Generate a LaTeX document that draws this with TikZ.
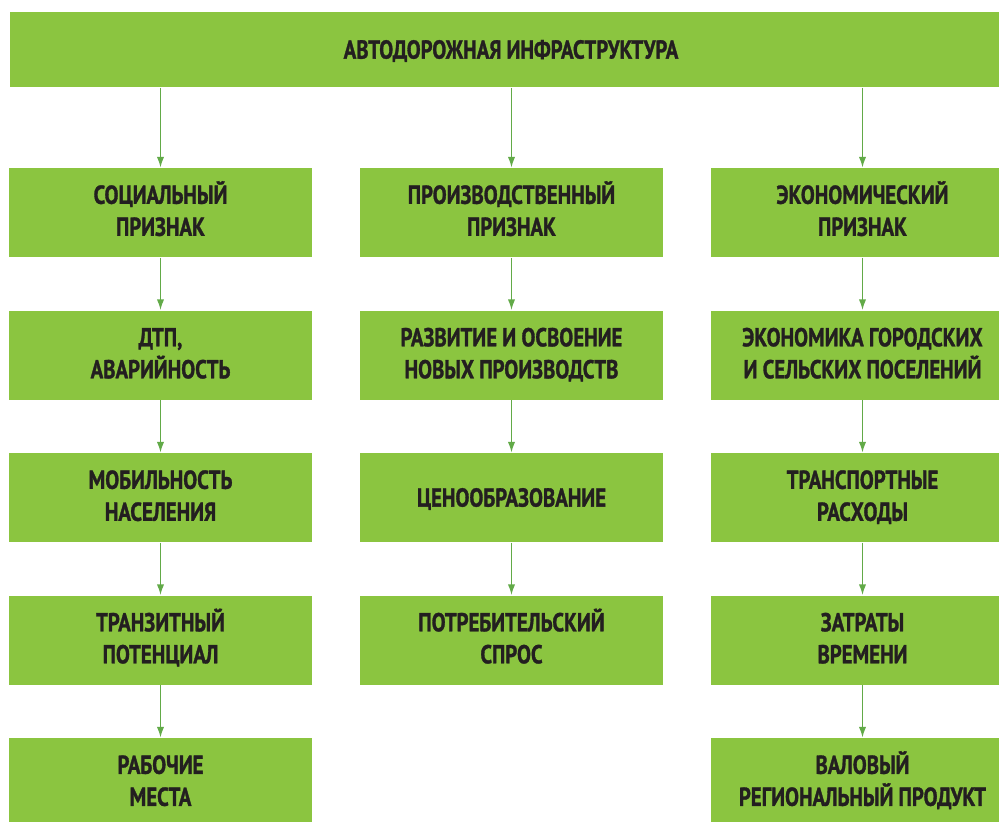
\documentclass[tikz,border=0pt]{standalone}
\usepackage{fontspec}
\setmainfont{PT Sans}[FakeStretch=0.8, BoldFeatures={FakeBold=1.2}]
\usetikzlibrary{arrows.meta}

\definecolor{boxgreen}{RGB}{139,197,64}
\definecolor{linkgreen}{RGB}{98,170,72}
\definecolor{inkdark}{RGB}{35,31,32}

\tikzset{every picture/.style={line width=0.75pt}}
\tikzset{
  sign/.style={fill=boxgreen, draw=none, minimum width=227.25pt, minimum height=66.75pt,
    inner sep=0pt, align=center, text=inkdark, text height=38pt, text depth=3pt,
    font=\fontsize{19.5}{24}\selectfont\bfseries},
  oneline/.style={text height=13.7pt, text depth=0pt},
  link/.style={draw=linkgreen, line width=1pt, -{Latex[length=8pt,width=5.5pt]}}
}

\begin{document}
\begin{tikzpicture}[x=0.75pt,y=0.75pt,yscale=-1,xscale=1]
\useasboundingbox (0,0) rectangle (999,821);

%Shape: Rectangle [top]
\node [sign, oneline, minimum width=751.5pt, minimum height=56.25pt] (infra) at (511,49.5) {АВТОДОРОЖНАЯ ИНФРАСТРУКТУРА};

% Left column
\node [sign] (soc) at (160.5,212.5) {СОЦИАЛЬНЫЙ\\ПРИЗНАК};
\node [sign] (dtp) at (160.5,355) {ДТП,\\АВАРИЙНОСТЬ};
\node [sign] (mob) at (160.5,497.5) {МОБИЛЬНОСТЬ\\НАСЕЛЕНИЯ};
\node [sign] (tranz) at (160.5,640) {ТРАНЗИТНЫЙ\\ПОТЕНЦИАЛ};
\node [sign] (rab) at (160.5,782.5) {РАБОЧИЕ\\МЕСТА};

% Middle column
\node [sign] (proizv) at (511.5,212.5) {ПРОИЗВОДСТВЕННЫЙ\\ПРИЗНАК};
\node [sign] (razv) at (511.5,355) {РАЗВИТИЕ И ОСВОЕНИЕ\\НОВЫХ ПРОИЗВОДСТВ};
\node [sign, oneline] (ceno) at (511.5,497.5) {ЦЕНООБРАЗОВАНИЕ};
\node [sign] (spros) at (511.5,640) {ПОТРЕБИТЕЛЬСКИЙ\\СПРОС};

% Right column
\node [sign] (ekon) at (862.5,212.5) {ЭКОНОМИЧЕСКИЙ\\ПРИЗНАК};
\node [sign] (posel) at (862.5,355) {ЭКОНОМИКА ГОРОДСКИХ\\И СЕЛЬСКИХ ПОСЕЛЕНИЙ};
\node [sign] (rash) at (862.5,497.5) {ТРАНСПОРТНЫЕ\\РАСХОДЫ};
\node [sign] (vrem) at (862.5,640) {ЗАТРАТЫ\\ВРЕМЕНИ};
\node [sign] (vrp) at (862.5,782.5) {ВАЛОВЫЙ\\РЕГИОНАЛЬНЫЙ ПРОДУКТ};

%Straight Lines
\draw [link] (infra.south -| soc.north) -- (soc.north);
\draw [link] (infra.south -| proizv.north) -- (proizv.north);
\draw [link] (infra.south -| ekon.north) -- (ekon.north);
\draw [link] (soc) -- (dtp);
\draw [link] (dtp) -- (mob);
\draw [link] (mob) -- (tranz);
\draw [link] (tranz) -- (rab);
\draw [link] (proizv) -- (razv);
\draw [link] (razv) -- (ceno);
\draw [link] (ceno) -- (spros);
\draw [link] (ekon) -- (posel);
\draw [link] (posel) -- (rash);
\draw [link] (rash) -- (vrem);
\draw [link] (vrem) -- (vrp);

\end{tikzpicture}
\end{document}
